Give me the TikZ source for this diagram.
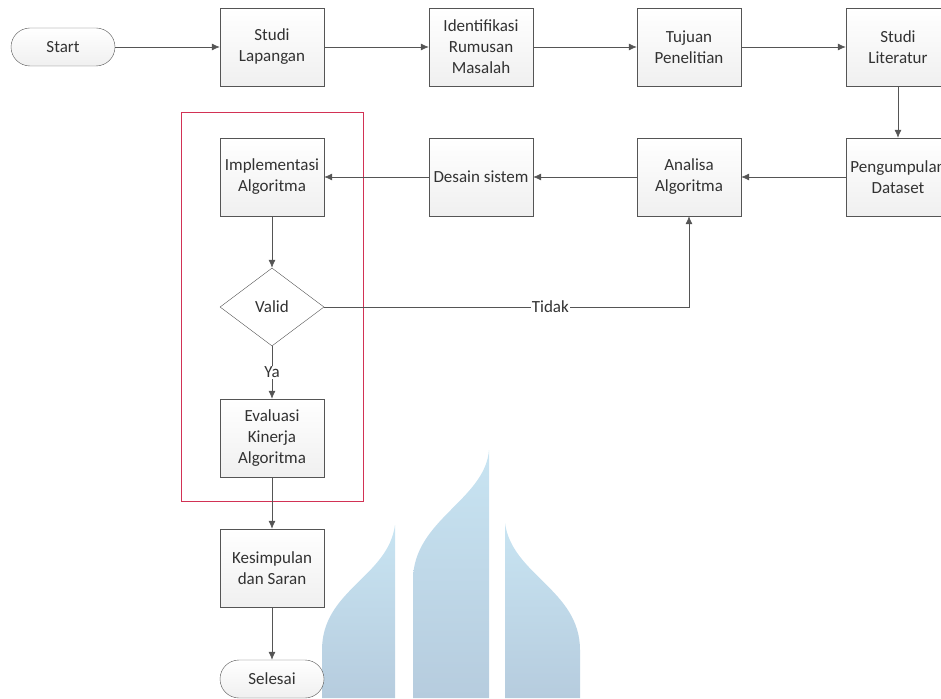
\documentclass[tikz,border=0pt]{standalone}
\usepackage{fontspec}
\setmainfont{Carlito}
\usepackage{tikz}
\usetikzlibrary{arrows.meta,shapes.geometric,calc}
\definecolor{garis}{RGB}{85,85,85}
\definecolor{teks}{RGB}{50,50,50}
\definecolor{bingkai}{RGB}{210,50,85}
\definecolor{logoatas}{RGB}{200,228,242}
\definecolor{logobawah}{RGB}{182,204,222}
\tikzset{
  proses/.style={draw=garis,top color=white,bottom color=gray!12,minimum width=104pt,minimum height=78pt,
    align=center,text=teks,inner sep=1pt,font=\fontsize{17}{21}\selectfont},
  terminal/.style={proses,minimum height=38pt,rounded corners=19pt},
  keputusan/.style={proses,diamond,top color=white,bottom color=white,inner sep=0pt},
  panah/.style={draw=garis,line width=0.7pt,-{Latex[length=8pt,width=7pt]}},
  label/.style={fill=white,text=teks,inner sep=1pt,font=\fontsize{17}{21}\selectfont}
}
\begin{document}
\begin{tikzpicture}[x=1pt,y=-1pt]
\clip (0,0) rectangle (941,698);
% watermark di belakang
\shade[top color=logoatas,bottom color=logobawah] (395,525) .. controls (388,577) and (322,590) .. (322,650) -- (322,698) -- (395,698) -- cycle;
\shade[top color=logoatas,bottom color=logobawah] (489,450) .. controls (485,500) and (413,520) .. (413,580) -- (413,698) -- (489,698) -- cycle;
\shade[top color=logoatas,bottom color=logobawah] (505,523) .. controls (512,575) and (580,590) .. (580,650) -- (580,698) -- (505,698) -- cycle;
% alur
\node[terminal] (start) at (63,47) {Start};
\node[proses] (lapangan) at (272,47) {Studi\\Lapangan};
\node[proses] (rumusan) at (481,47) {Identifikasi\\Rumusan\\Masalah};
\node[proses] (tujuan) at (689,47) {Tujuan\\Penelitian};
\node[proses] (literatur) at (898,47) {Studi\\Literatur};
\node[proses] (dataset) at (898,177) {Pengumpulan\\Dataset};
\node[proses] (analisa) at (689,177) {Analisa\\Algoritma};
\node[proses] (desain) at (481,177) {Desain sistem};
\node[proses] (implementasi) at (272,177) {Implementasi\\Algoritma};
\node[keputusan] (valid) at (272,307) {Valid};
\node[proses] (evaluasi) at (272,438) {Evaluasi\\Kinerja\\Algoritma};
\node[proses] (kesimpulan) at (272,568) {Kesimpulan\\dan Saran};
\node[terminal] (selesai) at (272,679) {Selesai};
\draw[bingkai,line width=0.8pt] (181,112) rectangle (363,501);
\draw[panah] (start) -- (lapangan);
\draw[panah] (lapangan) -- (rumusan);
\draw[panah] (rumusan) -- (tujuan);
\draw[panah] (tujuan) -- (literatur);
\draw[panah] (literatur) -- (dataset);
\draw[panah] (dataset) -- (analisa);
\draw[panah] (analisa) -- (desain);
\draw[panah] (desain) -- (implementasi);
\draw[panah] (implementasi) -- (valid);
\draw[panah] (valid) -- node[label] {Ya} (evaluasi);
\draw[panah] (valid.east) -| node[label,pos=0.31] {Tidak} (analisa.south);
\draw[panah] (evaluasi) -- (kesimpulan);
\draw[panah] (kesimpulan) -- (selesai);
\end{tikzpicture}
\end{document}
